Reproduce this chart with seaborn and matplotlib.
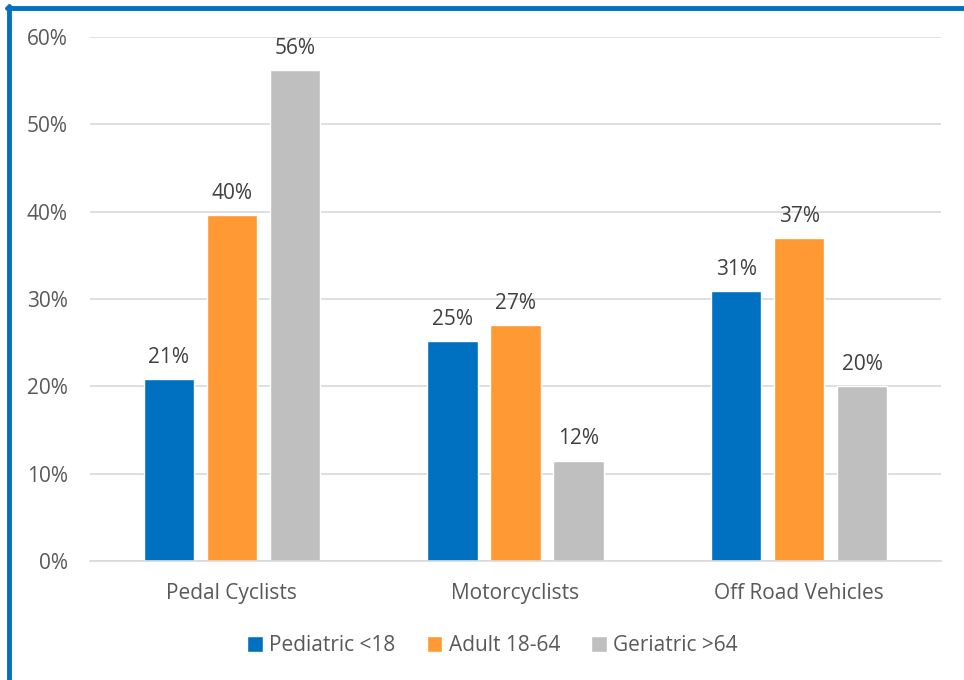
import numpy as np
import pandas as pd
import seaborn as sns
import matplotlib.pyplot as plt
from matplotlib.lines import Line2D
from matplotlib.ticker import FuncFormatter

categories = ["Pedal Cyclists", "Motorcyclists", "Off Road Vehicles"]
groups = ["Pediatric <18", "Adult 18-64", "Geriatric >64"]
pediatric = [20.8, 25.2, 30.9]
adult = [39.6, 27.0, 37.0]
geriatric = [56.2, 11.5, 20.0]
colors = ["#0070C0", "#FF9933", "#BFBFBF"]

rows = []
for g, vals in zip(groups, [pediatric, adult, geriatric]):
    for c, v in zip(categories, vals):
        rows.append({"category": c, "group": g, "value": v})
df = pd.DataFrame(rows)

sns.set_style("white")
plt.rcParams["font.family"] = ["Open Sans", "DejaVu Sans"]

fig = plt.figure(figsize=(9.64, 6.80), dpi=100)
ax = fig.add_axes([90 / 964, 1 - 561 / 680, 851 / 964, 524 / 680])

sns.barplot(data=df, x="category", y="value", hue="group", palette=colors,
            width=0.666, gap=0.2, ax=ax, saturation=1, errorbar=None)

for cont in ax.containers:
    ax.bar_label(cont, fmt="{:.0f}%", padding=8, fontsize=15, color="#404040")

ax.set_ylim(0, 60)
ax.set_yticks(np.arange(0, 61, 10))
ax.yaxis.set_major_formatter(FuncFormatter(lambda v, p: f"{v:.0f}%"))
ax.grid(axis="y", color="#D9D9D9", lw=1.2)
ax.set_axisbelow(True)
for s in ["top", "right", "left"]:
    ax.spines[s].set_visible(False)
ax.spines["bottom"].set_color("#D9D9D9")
ax.spines["bottom"].set_linewidth(1.2)
ax.tick_params(axis="y", length=0, pad=16, labelsize=15, labelcolor="#595959")
ax.tick_params(axis="x", length=0, pad=16, labelsize=15, labelcolor="#595959")
ax.set_xlabel("")
ax.set_ylabel("")

leg = ax.legend(loc="center", bbox_to_anchor=(0.473, -0.162), ncol=3, frameon=False,
                fontsize=15, handlelength=0.75, handleheight=0.75, handletextpad=0.3,
                columnspacing=1.5)
for t in leg.get_texts():
    t.set_color("#595959")

fig.add_artist(Line2D([9 / 964, 9 / 964], [0, 1 - 6 / 680], color="#0070C0", lw=3.5))
fig.add_artist(Line2D([7 / 964, 1], [1 - 8 / 680, 1 - 8 / 680], color="#0070C0", lw=3.5))

fig.savefig("out.png", dpi=100)
